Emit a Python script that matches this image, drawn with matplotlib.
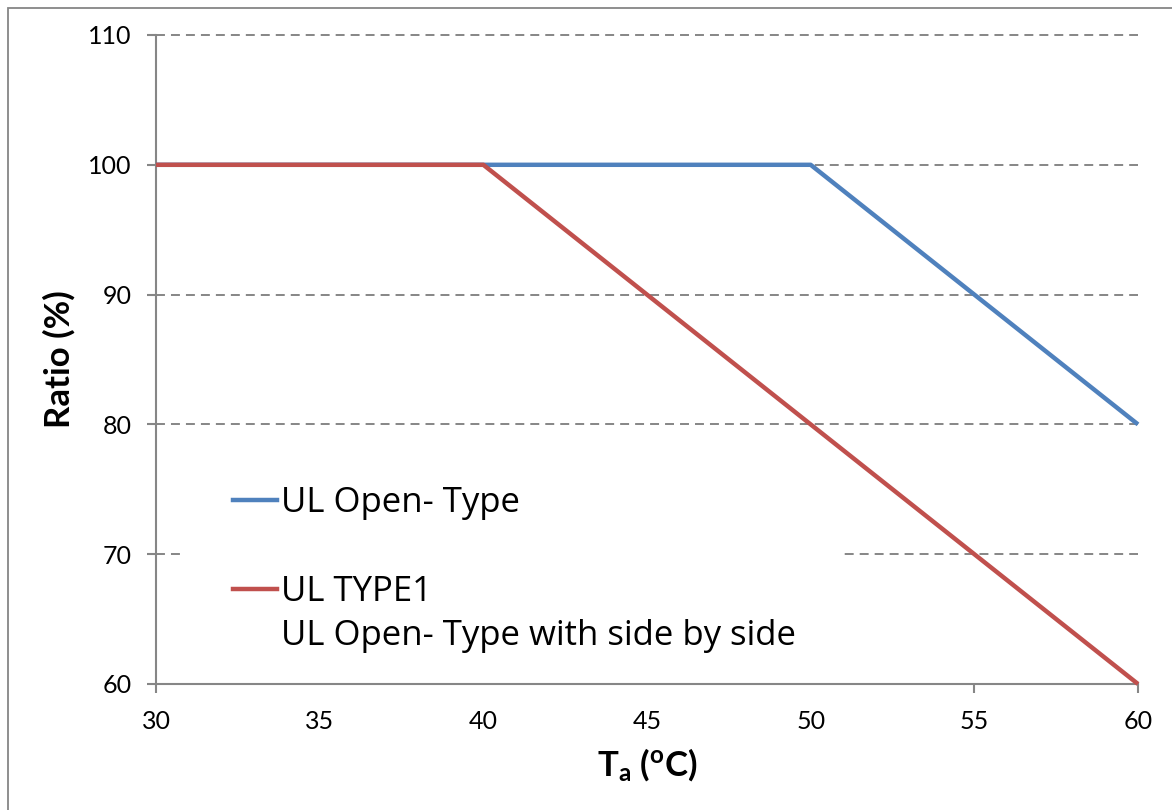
import matplotlib
matplotlib.use("Agg")
import matplotlib.pyplot as plt
from matplotlib.lines import Line2D
from matplotlib.patches import Rectangle

# data
ta = [30, 40, 50, 60]
ul_open = [100, 100, 100, 80]
ul_type1 = [100, 100, 80, 60]
x_ticks = [30, 35, 40, 45, 50, 55, 60]
y_ticks = [60, 70, 80, 90, 100, 110]

blue = "#4F81BD"
red = "#C0504D"
gray = "#868686"

plt.rcParams["font.family"] = ["Lato", "DejaVu Sans"]
plt.rcParams["mathtext.fontset"] = "custom"
plt.rcParams["mathtext.rm"] = "Lato"
plt.rcParams["mathtext.bf"] = "Lato:bold"
plt.rcParams["mathtext.it"] = "Lato:italic"

W, H = 1172, 810
fig = plt.figure(figsize=(W / 100, H / 100), dpi=100)
ax = fig.add_axes([156 / W, 1 - 684 / H, (1138 - 156) / W, (684 - 35) / H])

# figure border (cut off on right and bottom in the original)
fig.patches.append(Rectangle((8 / W, -0.1), 2, 1.1 - 8 / H, transform=fig.transFigure,
                             fill=False, edgecolor=gray, lw=1.3))

ax.plot(ta, ul_open, color=blue, lw=3.2, clip_on=False, zorder=3, solid_capstyle="butt")
ax.plot(ta, ul_type1, color=red, lw=3.2, clip_on=False, zorder=3, solid_capstyle="butt")

ax.set_xlim(30, 60)
ax.set_ylim(60, 110)
ax.set_xticks(x_ticks)
ax.set_yticks(y_ticks)

ax.set_axisbelow(True)
ax.grid(axis="y", color=gray, lw=1.4, linestyle=(0, (4.6, 3.1)))
for gl in ax.yaxis.get_gridlines():
    gl.set_clip_on(False)

for s in ["top", "right"]:
    ax.spines[s].set_visible(False)
for s in ["left", "bottom"]:
    ax.spines[s].set_color(gray)
    ax.spines[s].set_linewidth(1.5)

ax.tick_params(axis="both", direction="out", length=6.5, width=1.5, color=gray,
               labelsize=18, labelcolor="black")
ax.tick_params(axis="y", pad=11)
ax.tick_params(axis="x", pad=12)

ax.set_ylabel("Ratio (%)", fontsize=25, fontweight="bold", labelpad=9)
ax.set_xlabel(r"$\mathbf{T_a}$ ($\mathbf{^o}$C)", fontsize=25, fontweight="bold", labelpad=10)

handles = [
    Line2D([], [], color=blue, lw=3.2),
    Line2D([], [], color="none"),
    Line2D([], [], color=red, lw=3.2),
    Line2D([], [], color="none"),
]
labels = ["UL Open- Type", " ", "UL TYPE1", "UL Open- Type with side by side"]
leg = ax.legend(handles, labels, loc="center left", bbox_to_anchor=(0.0295, 0.1764),
                borderaxespad=0, prop={"family": "Open Sans", "size": 25},
                frameon=True, fancybox=False,
                edgecolor="none", facecolor="white", framealpha=1,
                handlelength=1.27, handletextpad=0.12, borderpad=1.38,
                labelspacing=0.3)
leg.set_zorder(2.4)

fig.savefig("out.png", dpi=100)
